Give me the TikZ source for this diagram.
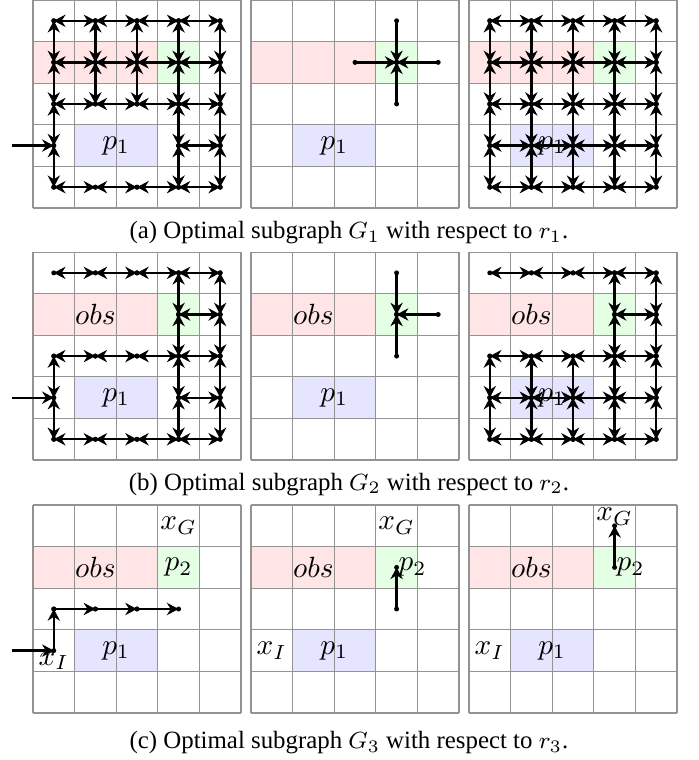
\documentclass[tikz,border=0pt]{standalone}
\usepackage[no-math]{fontspec}
\setmainfont{Liberation Serif}
\usetikzlibrary{arrows.meta}

\newcommand{\dotr}{0.85pt}
\newcommand{\gridpanel}[3]{%
  \begin{scope}[shift={(#2,#3)}]
    \fill[obsfill] (0,3) rectangle (3,4);
    \fill[goalfill] (3,3) rectangle (4,4);
    \fill[startfill] (1,1) rectangle (3,2);
    \draw[cell] (0,0) grid[step=5mm] (5,5);
    \foreach \i in {0,...,4}
      \foreach \j in {0,...,4}
        \coordinate (#1-\i-\j) at (\i+0.5,\j+0.5);
    \coordinate (#1-in) at (-0.5,1.5);
    \coordinate (#1-obs) at (1.5,3.5);
    \coordinate (#1-pone) at (2,1.5);
  \end{scope}}
\newcommand{\hedges}[4]{%
  \foreach \i [evaluate=\i as \k using int(\i+1)] in {#3,...,#4}{%
    \draw[edge] (#1-\i-#2) -- (#1-\k-#2);
    \fill (#1-\i-#2) circle (\dotr) (#1-\k-#2) circle (\dotr);}}
\newcommand{\vedges}[4]{%
  \foreach \j [evaluate=\j as \k using int(\j+1)] in {#3,...,#4}{%
    \draw[edge] (#1-#2-\j) -- (#1-#2-\k);
    \fill (#1-#2-\j) circle (\dotr) (#1-#2-\k) circle (\dotr);}}
\newcommand{\darc}[2]{%
  \draw[toward] (#1) -- (#2);
  \fill (#1) circle (\dotr) (#2) circle (\dotr);}

\begin{document}
\begin{tikzpicture}[
    x=5mm, y=5mm,
    obsfill/.style={fill=red!10},
    goalfill/.style={fill=green!10},
    startfill/.style={fill=blue!10},
    cell/.style={draw=gray!85, line width=0.4pt},
    edge/.style={{Stealth[length=4pt,width=4.2pt]}-{Stealth[length=4pt,width=4.2pt]}, thick},
    toward/.style={-{Stealth[length=4pt,width=4.2pt]}, thick},
    lbl/.style={inner sep=1pt},
    caption/.style={anchor=base, font=\fontsize{8.5}{10}\selectfont}
]
\useasboundingbox (0,0) rectangle (16.78,-18.27);

% (a)
\gridpanel{a1}{0.793}{-5}
\gridpanel{a2}{6.034}{-5}
\gridpanel{a3}{11.274}{-5}
\node[lbl] (a1-p) at (a1-pone) {$p_1$};
\node[lbl] (a2-p) at (a2-pone) {$p_1$};
\node[lbl] (a3-p) at (a3-pone) {$p_1$};
\foreach \j in {0,2,3,4} {\hedges{a1}{\j}{0}{3}}
\hedges{a1}{1}{3}{3}
\foreach \i in {0,3,4} {\vedges{a1}{\i}{0}{3}}
\foreach \i in {1,2} {\vedges{a1}{\i}{2}{3}}
\draw[toward] (a1-in) -- (a1-0-1);
\darc{a2-2-3}{a2-3-3}
\darc{a2-4-3}{a2-3-3}
\darc{a2-3-4}{a2-3-3}
\darc{a2-3-2}{a2-3-3}
\foreach \j in {0,...,4} {\hedges{a3}{\j}{0}{3}}
\foreach \i in {0,...,4} {\vedges{a3}{\i}{0}{3}}
\node[caption] (capa) at (8.39,-5.745) {(a) Optimal subgraph $G_1$ with respect to $r_1$.};

% (b)
\gridpanel{b1}{0.793}{-11.06}
\gridpanel{b2}{6.034}{-11.06}
\gridpanel{b3}{11.274}{-11.06}
\foreach \n in {b1,b2,b3} {
  \node[lbl] (\n-o) at (\n-obs) {$obs$};
  \node[lbl] (\n-p) at (\n-pone) {$p_1$};
}
\foreach \j in {0,2,4} {\hedges{b1}{\j}{0}{3}}
\hedges{b1}{3}{3}{3}
\hedges{b1}{1}{3}{3}
\vedges{b1}{0}{0}{1}
\foreach \i in {3,4} {\vedges{b1}{\i}{0}{3}}
\draw[toward] (b1-in) -- (b1-0-1);
\darc{b2-3-4}{b2-3-3}
\darc{b2-4-3}{b2-3-3}
\darc{b2-3-2}{b2-3-3}
\foreach \j in {0,1,2,4} {\hedges{b3}{\j}{0}{3}}
\hedges{b3}{3}{3}{3}
\foreach \i in {0,1,2} {\vedges{b3}{\i}{0}{1}}
\foreach \i in {3,4} {\vedges{b3}{\i}{0}{3}}
\node[caption] (capb) at (8.39,-11.78) {(b) Optimal subgraph $G_2$ with respect to $r_2$.};

% (c)
\gridpanel{c1}{0.793}{-17.14}
\gridpanel{c2}{6.034}{-17.14}
\gridpanel{c3}{11.274}{-17.14}
\foreach \n in {c1,c2,c3} {
  \node[lbl] (\n-o) at (\n-obs) {$obs$};
  \node[lbl] (\n-p) at (\n-pone) {$p_1$};
}
\node[lbl] (c1-g) at (c1-3-4) {$x_G$};
\node[lbl] (c1-two) at (c1-3-3) {$p_2$};
\node[lbl, below, inner sep=0.5pt] (c1-i) at (c1-0-1) {$x_I$};
\draw[toward] (c1-in) -- (c1-0-1);
\darc{c1-0-1}{c1-0-2}
\darc{c1-0-2}{c1-1-2}
\darc{c1-1-2}{c1-2-2}
\darc{c1-2-2}{c1-3-2}
\node[lbl] (c2-g) at (c2-3-4) {$x_G$};
\node[lbl, right, inner sep=0.5pt] (c2-two) at (c2-3-3) {$p_2$};
\node[lbl] (c2-i) at (c2-0-1) {$x_I$};
\darc{c2-3-2}{c2-3-3}
\node[above, inner sep=0pt] (c3-g) at (c3-3-4) {$x_G$};
\node[lbl, right, inner sep=0.5pt] (c3-two) at (c3-3-3) {$p_2$};
\node[lbl] (c3-i) at (c3-0-1) {$x_I$};
\darc{c3-3-3}{c3-3-4}
\node[caption] (capc) at (8.39,-18.0) {(c) Optimal subgraph $G_3$ with respect to $r_3$.};
\end{tikzpicture}
\end{document}
